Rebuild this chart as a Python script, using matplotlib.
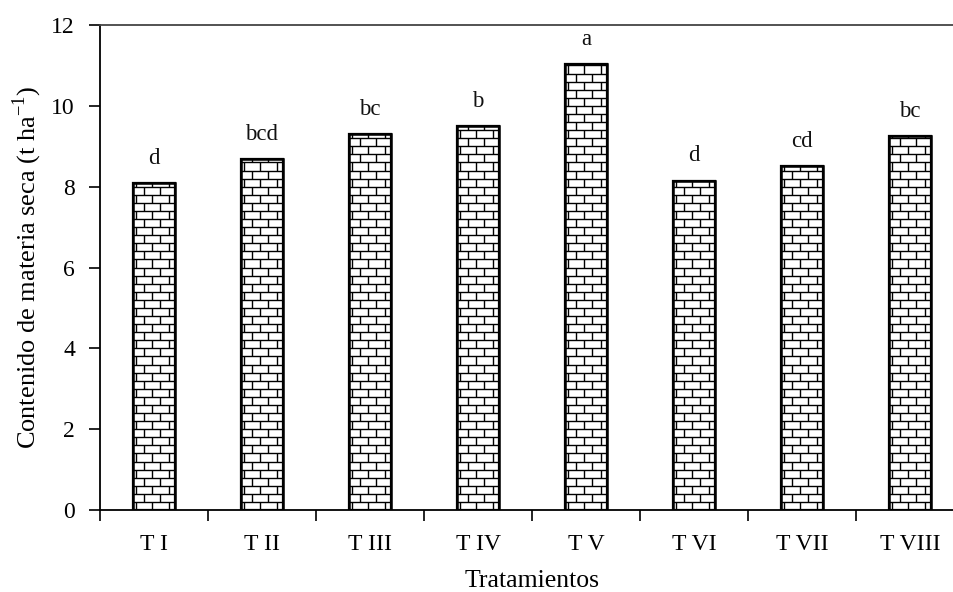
import matplotlib.pyplot as plt
import numpy as np
from matplotlib.collections import LineCollection

tratamientos = ["T I", "T II", "T III", "T IV", "T V", "T VI", "T VII", "T VIII"]
materia_seca = [8.09, 8.69, 9.30, 9.50, 11.03, 8.15, 8.50, 9.25]
letras = ["d", "bcd", "bc", "b", "a", "d", "cd", "bc"]

plt.rcParams['font.family'] = ['Liberation Serif', 'DejaVu Serif']

fig = plt.figure(figsize=(9.54, 5.92), dpi=100)
# the chart is cut on the right in the original, so the axes go past the figure edge
ax = fig.add_axes([100 / 954, 1 - 510 / 592, 864 / 954, 485 / 592])

x = np.arange(len(tratamientos))
bar_w = 0.39
bars = ax.bar(x, materia_seca, width=bar_w, color='white', edgecolor='black',
              linewidth=1.6, zorder=3)

# brick pattern, drawn as lines clipped to each bar
row_h = 0.2
brick_w = 0.15
for b in bars:
    x0 = b.get_x()
    x1 = x0 + b.get_width()
    top = b.get_height()
    segs = []
    k = 0
    while k * row_h < top:
        y = k * row_h
        segs.append([(x0, y), (x1, y)])
        off = (k % 2) * brick_w / 2
        xv = x0 + 0.03 + off
        while xv < x1:
            segs.append([(xv, y), (xv, min(y + row_h, top))])
            xv += brick_w
        k += 1
    lc = LineCollection(segs, colors='black', linewidths=1.0, zorder=4)
    ax.add_collection(lc)
    lc.set_clip_path(b)
    ax.add_patch(plt.Rectangle((x0, 0), b.get_width(), top, fill=False,
                               edgecolor='black', linewidth=1.8, zorder=5))

for xi, v, l in zip(x, materia_seca, letras):
    ax.text(xi, v + 0.35, l, ha='center', va='bottom', fontsize=16.5, color='#111111')

ax.set_xlim(-0.5, len(tratamientos) - 0.5)
ax.set_ylim(0, 12)
ax.set_yticks(np.arange(0, 13, 2))
ax.set_xticks(np.arange(-0.5, len(tratamientos), 1.0))
ax.set_xticklabels([])
ax.set_xticks(x, minor=True)
ax.set_xticklabels(tratamientos, minor=True)
ax.tick_params(axis='x', which='major', direction='out', length=8, width=1.2)
ax.tick_params(axis='x', which='minor', length=0, pad=17, labelsize=17)
ax.tick_params(axis='y', direction='out', length=8, width=1.2, labelsize=17, pad=10)

for s in ['top', 'bottom', 'left', 'right']:
    ax.spines[s].set_linewidth(1.3)
ax.spines['top'].set_color('#444444')

ax.set_xlabel("Tratamientos", fontsize=18.5, labelpad=11)
ax.set_ylabel("Contenido de materia seca (t ha$^{\\mathregular{-1}}$)", fontsize=19, labelpad=5)

fig.savefig("out.png", dpi=100)
